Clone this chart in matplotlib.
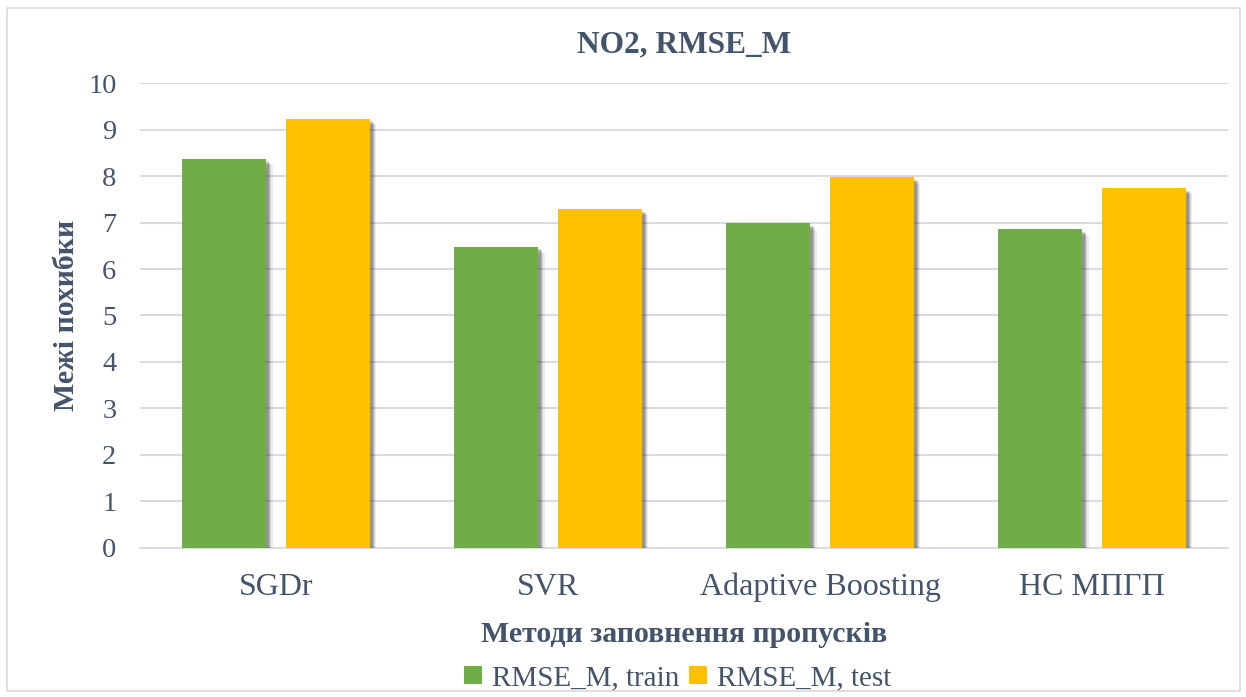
import matplotlib.pyplot as plt
import matplotlib.patheffects as pe
from matplotlib.patches import Rectangle
import numpy as np

plt.rcParams['font.family'] = ['Liberation Serif', 'DejaVu Serif']

methods = ["SGDr", "SVR", "Adaptive Boosting", "НС МПГП"]
rmse_train = [8.37, 6.48, 6.98, 6.85]
rmse_test = [9.23, 7.29, 7.97, 7.74]

txt = "#44546A"
green = "#70AD47"
gold = "#FFC000"
grid = "#D9DDE3"

fig = plt.figure(figsize=(12.46, 6.97), dpi=100)
ax = fig.add_axes([0.1124, 0.2138, 0.8732, 0.6671])

# chart frame
fig.patches.append(Rectangle((0.006, 0.008), 0.989, 0.98, transform=fig.transFigure,
                             fill=False, edgecolor="#D9D9D9", linewidth=1.2))

x = np.arange(len(methods))
w = 0.31
off = 0.191

# soft drop shadow, a few layers
shadow = [pe.SimplePatchShadow(offset=(o, -o), shadow_rgbFace="black", alpha=a)
          for o, a in [(4.5, 0.07), (3.6, 0.10), (2.7, 0.14), (1.8, 0.18)]] + [pe.Normal()]

b1 = ax.bar(x - off, rmse_train, w, color=green, label="RMSE_M, train", zorder=3)
b2 = ax.bar(x + off, rmse_test, w, color=gold, label="RMSE_M, test", zorder=3)
for b in list(b1) + list(b2):
    b.set_path_effects(shadow)

ax.set_xlim(-0.5, len(methods) - 0.5)
ax.set_ylim(0, 10)
ax.set_yticks(range(0, 11))
ax.yaxis.grid(True, color=grid, linewidth=1.5, zorder=0)
ax.set_axisbelow(True)
for s in ["top", "right", "left"]:
    ax.spines[s].set_visible(False)
ax.spines["bottom"].set_color(grid)
ax.spines["bottom"].set_linewidth(1.5)
ax.tick_params(axis="both", length=0, colors=txt)
ax.tick_params(axis="y", labelsize=20.5, pad=17)
ax.tick_params(axis="x", labelsize=23, pad=18)
ax.set_xticks(x)
ax.set_xticklabels(methods)

ax.set_title("NO2, RMSE_M", fontsize=22.6, fontweight="bold", color=txt, pad=22)
ax.set_xlabel("Методи заповнення пропусків", fontsize=21.5, fontweight="bold",
              color=txt, labelpad=13)
ax.set_ylabel("Межі похибки", fontsize=21.5, fontweight="bold", color=txt, labelpad=6)

leg = fig.legend(loc="center", bbox_to_anchor=(0.544, 0.027), ncol=2, frameon=False,
                 fontsize=21, handlelength=0.6, handleheight=0.6, handletextpad=0.35,
                 columnspacing=0.35, labelcolor=txt)
for h in leg.legend_handles:
    h.set_path_effects([])

fig.savefig("out.png", dpi=100)
